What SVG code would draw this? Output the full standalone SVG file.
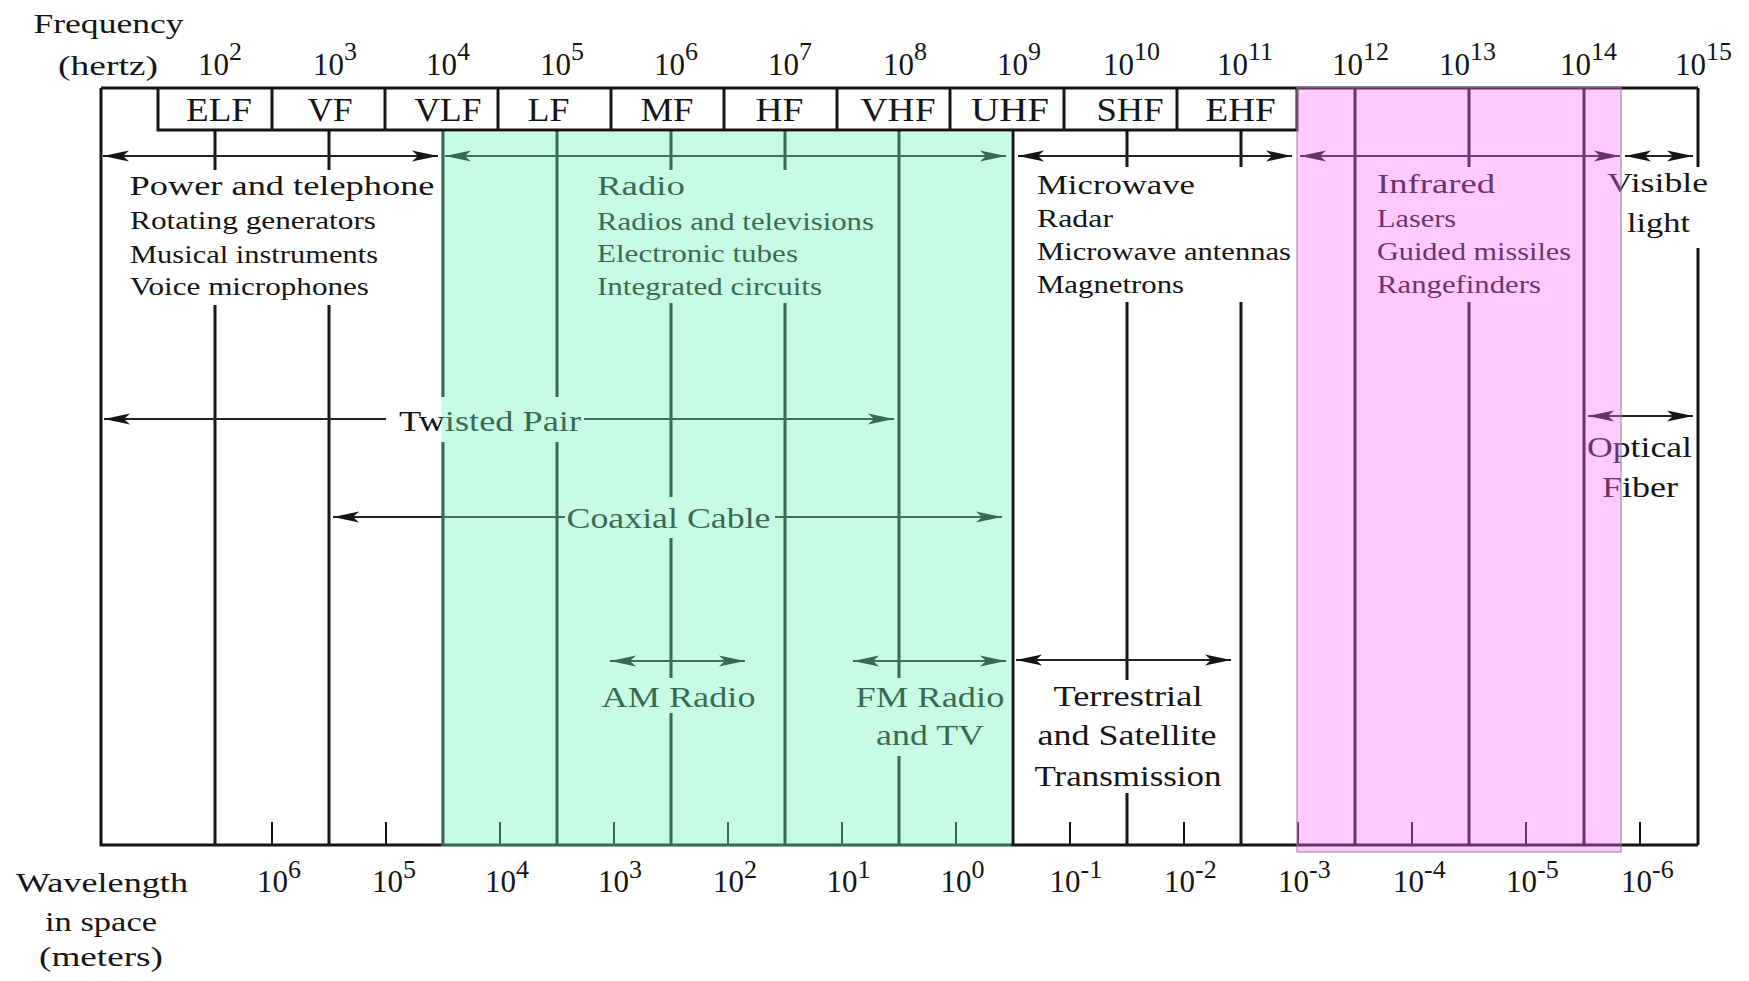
<svg xmlns="http://www.w3.org/2000/svg" width="1749" height="981" viewBox="0 0 1749 981">
<defs>
<style>
.t{font-family:"Liberation Serif","Times New Roman",serif;fill:#151515}
.hd{font-size:28px}
.sub{font-size:25.5px}
.lab{font-size:30px}
.band{font-size:33px;text-anchor:middle}
.num{font-size:31px}
.sup{font-size:26px}
.ln{stroke:#151515;stroke-width:3;fill:none}
.tk{stroke:#151515;stroke-width:2;fill:none}
.ar{stroke:#222;stroke-width:2;fill:none}
.ar2{stroke:#222;stroke-width:2;fill:none;marker-start:url(#ah);marker-end:url(#ah)}
.arL{stroke:#222;stroke-width:2;fill:none;marker-start:url(#ah)}
.arR{stroke:#222;stroke-width:2;fill:none;marker-end:url(#ah)}
</style>
<marker id="ah" viewBox="-27 -7 28 14" refX="0" refY="0" markerWidth="28" markerHeight="14" markerUnits="userSpaceOnUse" orient="auto-start-reverse">
<path d="M0,0 L-26,-5.5 L-20,0 L-26,5.5 Z" fill="#151515"/>
</marker>
</defs>
<rect x="0" y="0" width="1749" height="981" fill="#ffffff"/>

<g id="axis-titles">
<text class="t hd" x="33.5" y="33" textLength="150" lengthAdjust="spacingAndGlyphs">Frequency</text>
<text class="t hd" x="58" y="75" textLength="100" lengthAdjust="spacingAndGlyphs">(hertz)</text>
<text class="t hd" x="16" y="892" font-size="29" textLength="172" lengthAdjust="spacingAndGlyphs">Wavelength</text>
<text class="t hd" x="45" y="931" font-size="29" textLength="112" lengthAdjust="spacingAndGlyphs">in space</text>
<text class="t hd" x="39" y="966" font-size="29" textLength="124" lengthAdjust="spacingAndGlyphs">(meters)</text>
</g>

<g id="frame">
<path class="ln" d="M101,88 H1698 M101,88 V845 H1698"/>
<path class="ln" d="M158,88 V130 H1297 V88"/>
</g>

<g id="band-boxes">
<g id="band-ELF"><text class="t band" x="219" y="121" textLength="66" lengthAdjust="spacingAndGlyphs">ELF</text></g>
<g id="band-VF"><path class="ln" d="M272,88 V130"/><text class="t band" x="330" y="121" textLength="45" lengthAdjust="spacingAndGlyphs">VF</text></g>
<g id="band-VLF"><path class="ln" d="M385,88 V130"/><text class="t band" x="448" y="121" textLength="67" lengthAdjust="spacingAndGlyphs">VLF</text></g>
<g id="band-LF"><path class="ln" d="M498,88 V130"/><text class="t band" x="548.5" y="121" textLength="42" lengthAdjust="spacingAndGlyphs">LF</text></g>
<g id="band-MF"><path class="ln" d="M611,88 V130"/><text class="t band" x="667" y="121" textLength="53" lengthAdjust="spacingAndGlyphs">MF</text></g>
<g id="band-HF"><path class="ln" d="M724,88 V130"/><text class="t band" x="779.5" y="121" textLength="48" lengthAdjust="spacingAndGlyphs">HF</text></g>
<g id="band-VHF"><path class="ln" d="M837,88 V130"/><text class="t band" x="898" y="121" textLength="75" lengthAdjust="spacingAndGlyphs">VHF</text></g>
<g id="band-UHF"><path class="ln" d="M950,88 V130"/><text class="t band" x="1010" y="121" textLength="78" lengthAdjust="spacingAndGlyphs">UHF</text></g>
<g id="band-SHF"><path class="ln" d="M1064,88 V130"/><text class="t band" x="1130" y="121" textLength="67" lengthAdjust="spacingAndGlyphs">SHF</text></g>
<g id="band-EHF"><path class="ln" d="M1177,88 V130"/><text class="t band" x="1240.5" y="121" textLength="70" lengthAdjust="spacingAndGlyphs">EHF</text></g>
</g>

<g id="decade-lines">
<path class="ln" d="M215,130 V170 M215,305 V845"/>
<path class="ln" d="M329,130 V170 M329,305 V845"/>
<path class="ln" d="M443,130 V397 M443,442 V845"/>
<path class="ln" d="M557,130 V397 M557,442 V845"/>
<path class="ln" d="M671,130 V170 M671,303 V497 M671,538 V678 M671,713 V845"/>
<path class="ln" d="M785,130 V170 M785,303 V845"/>
<path class="ln" d="M899,130 V678 M899,756 V845"/>
<path class="ln" d="M1013,130 V845"/>
<path class="ln" d="M1127,130 V167 M1127,302 V680 M1127,793 V845"/>
<path class="ln" d="M1241,130 V167 M1241,302 V845"/>
<path class="ln" d="M1355,88 V845"/>
<path class="ln" d="M1469,88 V167 M1469,302 V845"/>
<path class="ln" d="M1584,88 V845"/>
<path class="ln" d="M1698,88 V167 M1698,248 V845"/>
</g>

<g id="ticks">
<path class="tk" d="M272,822 V845 M386,822 V845 M500,822 V845 M614,822 V845 M728,822 V845 M842,822 V845 M956,822 V845 M1070,822 V845 M1184,822 V845 M1298,822 V845 M1412,822 V845 M1526,822 V845 M1640,822 V845"/>
</g>

<g id="frequency-scale">
<text class="t num" x="198" y="75">10<tspan class="sup" dy="-15">2</tspan></text>
<text class="t num" x="313" y="75">10<tspan class="sup" dy="-15">3</tspan></text>
<text class="t num" x="426" y="75">10<tspan class="sup" dy="-15">4</tspan></text>
<text class="t num" x="540" y="75">10<tspan class="sup" dy="-15">5</tspan></text>
<text class="t num" x="654" y="75">10<tspan class="sup" dy="-15">6</tspan></text>
<text class="t num" x="768" y="75">10<tspan class="sup" dy="-15">7</tspan></text>
<text class="t num" x="883" y="75">10<tspan class="sup" dy="-15">8</tspan></text>
<text class="t num" x="997" y="75">10<tspan class="sup" dy="-15">9</tspan></text>
<text class="t num" x="1103" y="75">10<tspan class="sup" dy="-15">10</tspan></text>
<text class="t num" x="1217" y="75">10<tspan class="sup" dy="-15">11</tspan></text>
<text class="t num" x="1332" y="75">10<tspan class="sup" dy="-15">12</tspan></text>
<text class="t num" x="1439" y="75">10<tspan class="sup" dy="-15">13</tspan></text>
<text class="t num" x="1560" y="75">10<tspan class="sup" dy="-15">14</tspan></text>
<text class="t num" x="1675" y="75">10<tspan class="sup" dy="-15">15</tspan></text>
</g>

<g id="wavelength-scale">
<text class="t num" x="257" y="892">10<tspan class="sup" dy="-14">6</tspan></text>
<text class="t num" x="372" y="892">10<tspan class="sup" dy="-14">5</tspan></text>
<text class="t num" x="485" y="892">10<tspan class="sup" dy="-14">4</tspan></text>
<text class="t num" x="598" y="892">10<tspan class="sup" dy="-14">3</tspan></text>
<text class="t num" x="713" y="892">10<tspan class="sup" dy="-14">2</tspan></text>
<text class="t num" x="826.5" y="892">10<tspan class="sup" dy="-14">1</tspan></text>
<text class="t num" x="940.5" y="892">10<tspan class="sup" dy="-14">0</tspan></text>
<text class="t num" x="1049.5" y="892">10<tspan class="sup" dy="-14">-1</tspan></text>
<text class="t num" x="1164" y="892">10<tspan class="sup" dy="-14">-2</tspan></text>
<text class="t num" x="1278" y="892">10<tspan class="sup" dy="-14">-3</tspan></text>
<text class="t num" x="1393" y="892">10<tspan class="sup" dy="-14">-4</tspan></text>
<text class="t num" x="1506" y="892">10<tspan class="sup" dy="-14">-5</tspan></text>
<text class="t num" x="1621" y="892">10<tspan class="sup" dy="-14">-6</tspan></text>
</g>

<g id="power-telephone">
<text class="t hd" x="129.5" y="195" textLength="305" lengthAdjust="spacingAndGlyphs">Power and telephone</text>
<text class="t sub" x="130" y="229" textLength="246" lengthAdjust="spacingAndGlyphs">Rotating generators</text>
<text class="t sub" x="130" y="263" textLength="248" lengthAdjust="spacingAndGlyphs">Musical instruments</text>
<text class="t sub" x="130" y="295" textLength="239" lengthAdjust="spacingAndGlyphs">Voice microphones</text>
</g>

<g id="radio">
<text class="t hd" x="597" y="195" textLength="88" lengthAdjust="spacingAndGlyphs">Radio</text>
<text class="t sub" x="597" y="230" textLength="277" lengthAdjust="spacingAndGlyphs">Radios and televisions</text>
<text class="t sub" x="597" y="262" textLength="201" lengthAdjust="spacingAndGlyphs">Electronic tubes</text>
<text class="t sub" x="597" y="295" textLength="225" lengthAdjust="spacingAndGlyphs">Integrated circuits</text>
</g>

<g id="microwave">
<text class="t hd" x="1037" y="193.5" textLength="158" lengthAdjust="spacingAndGlyphs">Microwave</text>
<text class="t sub" x="1037" y="227" textLength="76" lengthAdjust="spacingAndGlyphs">Radar</text>
<text class="t sub" x="1037" y="259.5" textLength="254" lengthAdjust="spacingAndGlyphs">Microwave antennas</text>
<text class="t sub" x="1037" y="293" textLength="147" lengthAdjust="spacingAndGlyphs">Magnetrons</text>
</g>

<g id="infrared">
<text class="t hd" x="1377" y="193" textLength="118" lengthAdjust="spacingAndGlyphs">Infrared</text>
<text class="t sub" x="1377" y="227" textLength="79" lengthAdjust="spacingAndGlyphs">Lasers</text>
<text class="t sub" x="1377" y="259.5" textLength="194" lengthAdjust="spacingAndGlyphs">Guided missiles</text>
<text class="t sub" x="1377" y="293" textLength="164" lengthAdjust="spacingAndGlyphs">Rangefinders</text>
</g>

<g id="visible-light">
<text class="t hd" x="1607" y="192" textLength="101" lengthAdjust="spacingAndGlyphs">Visible</text>
<text class="t hd" x="1627" y="232" textLength="63" lengthAdjust="spacingAndGlyphs">light</text>
</g>

<g id="twisted-pair"><text class="t lab" x="399" y="431" textLength="182" lengthAdjust="spacingAndGlyphs">Twisted Pair</text></g>
<g id="coaxial-cable"><text class="t lab" x="566.5" y="528" textLength="204" lengthAdjust="spacingAndGlyphs">Coaxial Cable</text></g>
<g id="am-radio"><text class="t lab" x="601.5" y="707" textLength="154" lengthAdjust="spacingAndGlyphs">AM Radio</text></g>
<g id="fm-radio">
<text class="t lab" x="855.5" y="707" textLength="149" lengthAdjust="spacingAndGlyphs">FM Radio</text>
<text class="t lab" x="876" y="745" textLength="108" lengthAdjust="spacingAndGlyphs">and TV</text>
</g>
<g id="terrestrial-satellite">
<text class="t lab" x="1053.5" y="706" textLength="149" lengthAdjust="spacingAndGlyphs">Terrestrial</text>
<text class="t lab" x="1037.5" y="745" textLength="179" lengthAdjust="spacingAndGlyphs">and Satellite</text>
<text class="t lab" x="1034.5" y="786" textLength="187" lengthAdjust="spacingAndGlyphs">Transmission</text>
</g>
<g id="optical-fiber">
<text class="t lab" x="1587" y="457" textLength="105" lengthAdjust="spacingAndGlyphs">Optical</text>
<text class="t lab" x="1602" y="497" textLength="76" lengthAdjust="spacingAndGlyphs">Fiber</text>
</g>

<g id="connectors">
<path class="ar2" d="M103,156 H438"/>
<path class="ar2" d="M445,156 H1006"/>
<path class="ar2" d="M1018,156 H1292"/>
<path class="ar2" d="M1300,156 H1620"/>
<path class="ar2" d="M1625,156 H1693"/>
<path class="arL" d="M104,419 H386"/>
<path class="arR" d="M584,419 H894"/>
<path class="arL" d="M333,517 H565"/>
<path class="arR" d="M775,517 H1002"/>
<path class="ar2" d="M610,661 H745"/>
<path class="ar2" d="M853,661 H1006"/>
<path class="ar2" d="M1016,660 H1231"/>
<path class="ar2" d="M1588,416 H1693"/>
</g>

<g id="radio-region">
<rect x="441.5" y="131.5" width="570" height="715.5" fill="#6ef5b6" fill-opacity="0.38"/>
</g>
<g id="infrared-region">
<rect x="1297" y="87" width="324" height="765" fill="#ff6cff" fill-opacity="0.36" stroke="#8f808f" stroke-width="1"/>
</g>
</svg>
